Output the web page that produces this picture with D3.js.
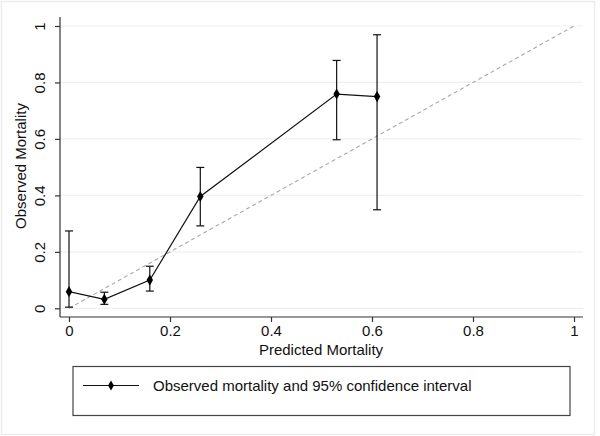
<!DOCTYPE html>
<html><head><meta charset="utf-8">
<script src="https://cdn.jsdelivr.net/npm/d3@7"></script>
<style>body{margin:0;background:#fff}svg{display:block;font-family:"Liberation Sans",Arial,sans-serif}</style>
</head><body><svg id="c" width="600" height="436"></svg>
<script>
const predicted = [0, 0.07, 0.16, 0.26, 0.53, 0.61];
const observed  = [0.059, 0.032, 0.10, 0.396, 0.759, 0.75];
const ciLower   = [0.004, 0.014, 0.061, 0.292, 0.597, 0.349];
const ciUpper   = [0.274, 0.057, 0.149, 0.499, 0.878, 0.969];
const xTicks = [0, 0.2, 0.4, 0.6, 0.8, 1];
const yTicks = [0, 0.2, 0.4, 0.6, 0.8, 1];
const xLabel = "Predicted Mortality";
const yLabel = "Observed Mortality";
const legendLabel = "Observed mortality and 95% confidence interval";

const svg = d3.select("#c");
const fmt = d => d === 0 ? "0" : d === 1 ? "1" : String(d);
const x = d3.scaleLinear().domain([0, 1]).range([69, 574]);
const y = d3.scaleLinear().domain([0, 1]).range([308.3, 26]);
const plotL = 60, plotR = 583, plotT = 17, plotB = 317;
const FS = "15px";

// outer frame
svg.append("rect").attr("x",1.5).attr("y",1.5).attr("width",593).attr("height",433)
  .attr("fill","none").attr("stroke","#ececec").attr("stroke-width",1.5);

// gridlines
svg.append("g").selectAll("line").data(yTicks).join("line")
  .attr("x1",plotL).attr("x2",plotR).attr("y1",d=>y(d)).attr("y2",d=>y(d))
  .attr("stroke","#f0f0f0").attr("stroke-width",1.2);

// axes
const xAxis = svg.append("g").attr("transform",`translate(0,${plotB})`)
  .call(d3.axisBottom(x).tickValues(xTicks).tickFormat(fmt).tickSize(5).tickPadding(3).tickSizeOuter(0));
xAxis.select(".domain").attr("d",`M${plotL},0H${plotR}`);
const yAxis = svg.append("g").attr("transform",`translate(${plotL},0)`)
  .call(d3.axisLeft(y).tickValues(yTicks).tickFormat(fmt).tickSize(5).tickSizeOuter(0));
yAxis.select(".domain").attr("d",`M0,${plotT}V${plotB}`);
[xAxis,yAxis].forEach(a=>{
  a.selectAll(".domain,.tick line").attr("stroke","#333").attr("stroke-width",1.2);
  a.selectAll("text").attr("fill","#111").style("font-size",FS).style("font-family",'"Liberation Sans",Arial,sans-serif');
});
yAxis.selectAll(".tick text").attr("x",null).attr("dy",null)
  .attr("text-anchor","middle").attr("transform","translate(-15,0) rotate(-90)");

// diagonal
svg.append("line").attr("x1",x(0)).attr("y1",y(0)).attr("x2",x(1)).attr("y2",y(1))
  .attr("stroke","#a8a8a8").attr("stroke-width",1.1).attr("stroke-dasharray","4,3");

const data = predicted.map((p,i)=>({p, o:observed[i], lo:ciLower[i], hi:ciUpper[i]}));
// error bars
const eb = svg.append("g").attr("stroke","#111").attr("stroke-width",1.2);
data.forEach(d=>{
  eb.append("line").attr("x1",x(d.p)).attr("x2",x(d.p)).attr("y1",y(d.lo)).attr("y2",y(d.hi));
  eb.append("line").attr("x1",x(d.p)-4).attr("x2",x(d.p)+4).attr("y1",y(d.lo)).attr("y2",y(d.lo));
  eb.append("line").attr("x1",x(d.p)-4).attr("x2",x(d.p)+4).attr("y1",y(d.hi)).attr("y2",y(d.hi));
});
// line
svg.append("path").datum(data).attr("fill","none").attr("stroke","#111").attr("stroke-width",1.2)
  .attr("d",d3.line().x(d=>x(d.p)).y(d=>y(d.o)));
// markers
svg.append("g").selectAll("path").data(data).join("path")
  .attr("transform",d=>`translate(${x(d.p)},${y(d.o)})`)
  .attr("d",d3.symbol(d3.symbolDiamond,36)).attr("fill","#000");

// axis titles
svg.append("text").attr("x",321).attr("y",355).attr("text-anchor","middle")
  .style("font-size",FS).attr("fill","#111").text(xLabel);
svg.append("text").attr("transform","translate(26,166) rotate(-90)").attr("text-anchor","middle")
  .style("font-size",FS).attr("fill","#111").text(yLabel);

// legend
svg.append("rect").attr("x",73).attr("y",366.5).attr("width",497).attr("height",49)
  .attr("fill","#fff").attr("stroke","#444").attr("stroke-width",1.2);
svg.append("line").attr("x1",83).attr("x2",139).attr("y1",385.5).attr("y2",385.5)
  .attr("stroke","#111").attr("stroke-width",1.2);
svg.append("path").attr("transform","translate(111,385.5)")
  .attr("d",d3.symbol(d3.symbolDiamond,30)).attr("fill","#000");
svg.append("text").attr("x",153).attr("y",391).style("font-size",FS).attr("fill","#111").text(legendLabel);
</script></body></html>
